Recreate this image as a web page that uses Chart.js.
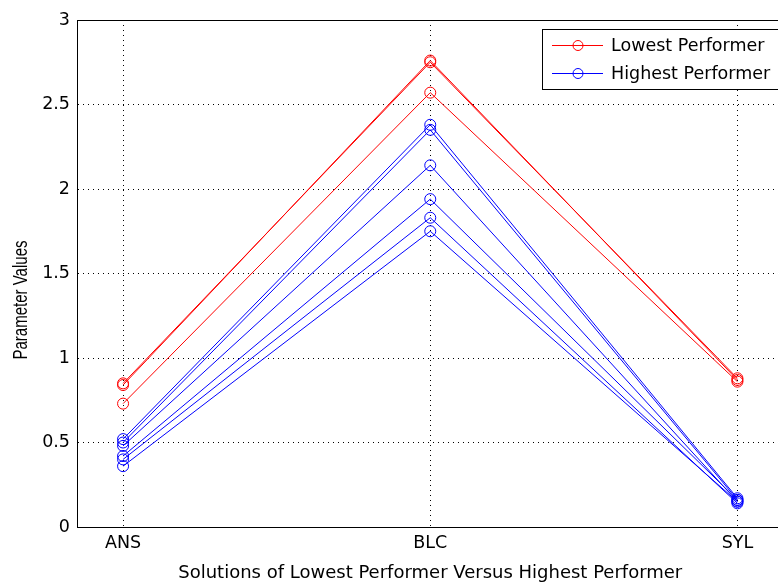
<!DOCTYPE html>
<html>
<head>
<meta charset="utf-8">
<script src="https://cdn.jsdelivr.net/npm/chart.js@4/dist/chart.umd.min.js"></script>
<style>
  html, body { margin: 0; padding: 0; background: #fff; overflow: hidden; }
  #wrap { width: 790px; height: 584px; }
</style>
</head>
<body>
<div id="wrap"><canvas id="paramChart" width="790" height="584"></canvas></div>
<script>
const categories = ['ANS', 'BLC', 'SYL']
const yTicks = [0, 0.5, 1, 1.5, 2, 2.5, 3]

// lowest performer runs
const lowest1 = [0.84, 2.76, 0.87]
const lowest2 = [0.85, 2.75, 0.88]
const lowest3 = [0.73, 2.57, 0.86]

// highest performer runs
const highest1 = [0.52, 2.38, 0.17]
const highest2 = [0.50, 2.35, 0.16]
const highest3 = [0.48, 2.14, 0.15]
const highest4 = [0.42, 1.94, 0.16]
const highest5 = [0.40, 1.83, 0.14]
const highest6 = [0.36, 1.75, 0.15]

const RED = '#ff0000'
const BLUE = '#0000ff'
const FONT = 'DejaVu Sans, Liberation Sans, sans-serif'
const FONT_SIZE = 17.5

const toPoints = vals => vals.map((v, i) => ({ x: i, y: v }))
const makeSet = (label, vals, color) => ({
  label: label,
  data: toPoints(vals),
  borderColor: color,
  backgroundColor: 'rgba(0,0,0,0)',
  borderWidth: 1,
  pointRadius: 5.5,
  pointHoverRadius: 5.5,
  pointBorderWidth: 1,
  pointBorderColor: color,
  pointBackgroundColor: 'rgba(0,0,0,0)',
  tension: 0,
  fill: false
})

const datasets = [
  makeSet('Lowest Performer', lowest1, RED),
  makeSet('', lowest2, RED),
  makeSet('', lowest3, RED),
  makeSet('Highest Performer', highest1, BLUE),
  makeSet('', highest2, BLUE),
  makeSet('', highest3, BLUE),
  makeSet('', highest4, BLUE),
  makeSet('', highest5, BLUE),
  makeSet('', highest6, BLUE)
]

// matlab-like box, y label and legend inside the axes
const boxLegend = {
  id: 'boxLegend',
  afterDraw(chart) {
    const { ctx, chartArea } = chart
    ctx.save()
    ctx.strokeStyle = '#000'
    ctx.lineWidth = 1
    ctx.strokeRect(chartArea.left + 0.5, chartArea.top + 0.5, chartArea.right - chartArea.left, chartArea.bottom - chartArea.top)

    // y axis label (source picture is stretched sideways, so stretch it too)
    ctx.save()
    ctx.translate(22, 300)
    ctx.scale(1.3, 1)
    ctx.rotate(-Math.PI / 2)
    ctx.font = '15px "Liberation Sans", Arial, sans-serif'
    ctx.fillStyle = '#000'
    ctx.textAlign = 'center'
    ctx.textBaseline = 'middle'
    ctx.fillText('Parameter Values', 0, 0)
    ctx.restore()

    const entries = chart.data.datasets.filter(d => d.label)
    const bx = 542, by = 29, bw = 260, bh = 60
    ctx.fillStyle = '#fff'
    ctx.fillRect(bx, by, bw, bh)
    ctx.strokeRect(bx + 0.5, by + 0.5, bw, bh)
    ctx.font = FONT_SIZE + 'px ' + FONT
    ctx.textBaseline = 'middle'
    entries.forEach((d, i) => {
      const y = by + 16 + i * 28
      ctx.strokeStyle = d.borderColor
      ctx.beginPath()
      ctx.moveTo(552, y + 0.5)
      ctx.lineTo(603, y + 0.5)
      ctx.stroke()
      ctx.beginPath()
      ctx.arc(578, y + 0.5, 5, 0, Math.PI * 2)
      ctx.stroke()
      ctx.fillStyle = '#000'
      ctx.fillText(d.label, 611, y + 1)
    })
    ctx.restore()
  }
}

const ctx = document.getElementById('paramChart')
// eslint-disable-next-line no-unused-vars
const paramChart = new Chart(ctx, {
  type: 'line',
  data: { datasets: datasets },
  options: {
    responsive: false,
    animation: false,
    layout: { padding: { top: 20, right: 6, left: 0, bottom: 0 } },
    plugins: {
      legend: { display: false },
      tooltip: { enabled: false }
    },
    scales: {
      x: {
        type: 'linear',
        min: -0.15,
        max: 2.15,
        afterBuildTicks: axis => { axis.ticks = categories.map((c, i) => ({ value: i })) },
        afterFit: axis => { axis.height = 57 },
        ticks: {
          callback: v => categories[v],
          color: '#000',
          padding: 6,
          font: { size: FONT_SIZE, family: FONT }
        },
        grid: {
          color: '#000',
          lineWidth: 1,
          drawTicks: false
        },
        border: { display: true, color: '#000', dash: [1, 4] },
        title: {
          display: true,
          text: 'Solutions of Lowest Performer Versus Highest Performer',
          color: '#000',
          font: { size: 18, family: FONT },
          padding: { top: 4, bottom: 0 }
        }
      },
      y: {
        type: 'linear',
        min: 0,
        max: 3,
        afterBuildTicks: axis => { axis.ticks = yTicks.map(v => ({ value: v })) },
        afterFit: axis => { axis.width = 77 },
        ticks: {
          callback: v => String(v),
          color: '#000',
          padding: 7,
          font: { size: FONT_SIZE, family: FONT }
        },
        grid: {
          color: '#000',
          lineWidth: 1,
          drawTicks: false
        },
        border: { display: true, color: '#000', dash: [1, 4] }
      }
    }
  },
  plugins: [boxLegend]
})
</script>
</body>
</html>
